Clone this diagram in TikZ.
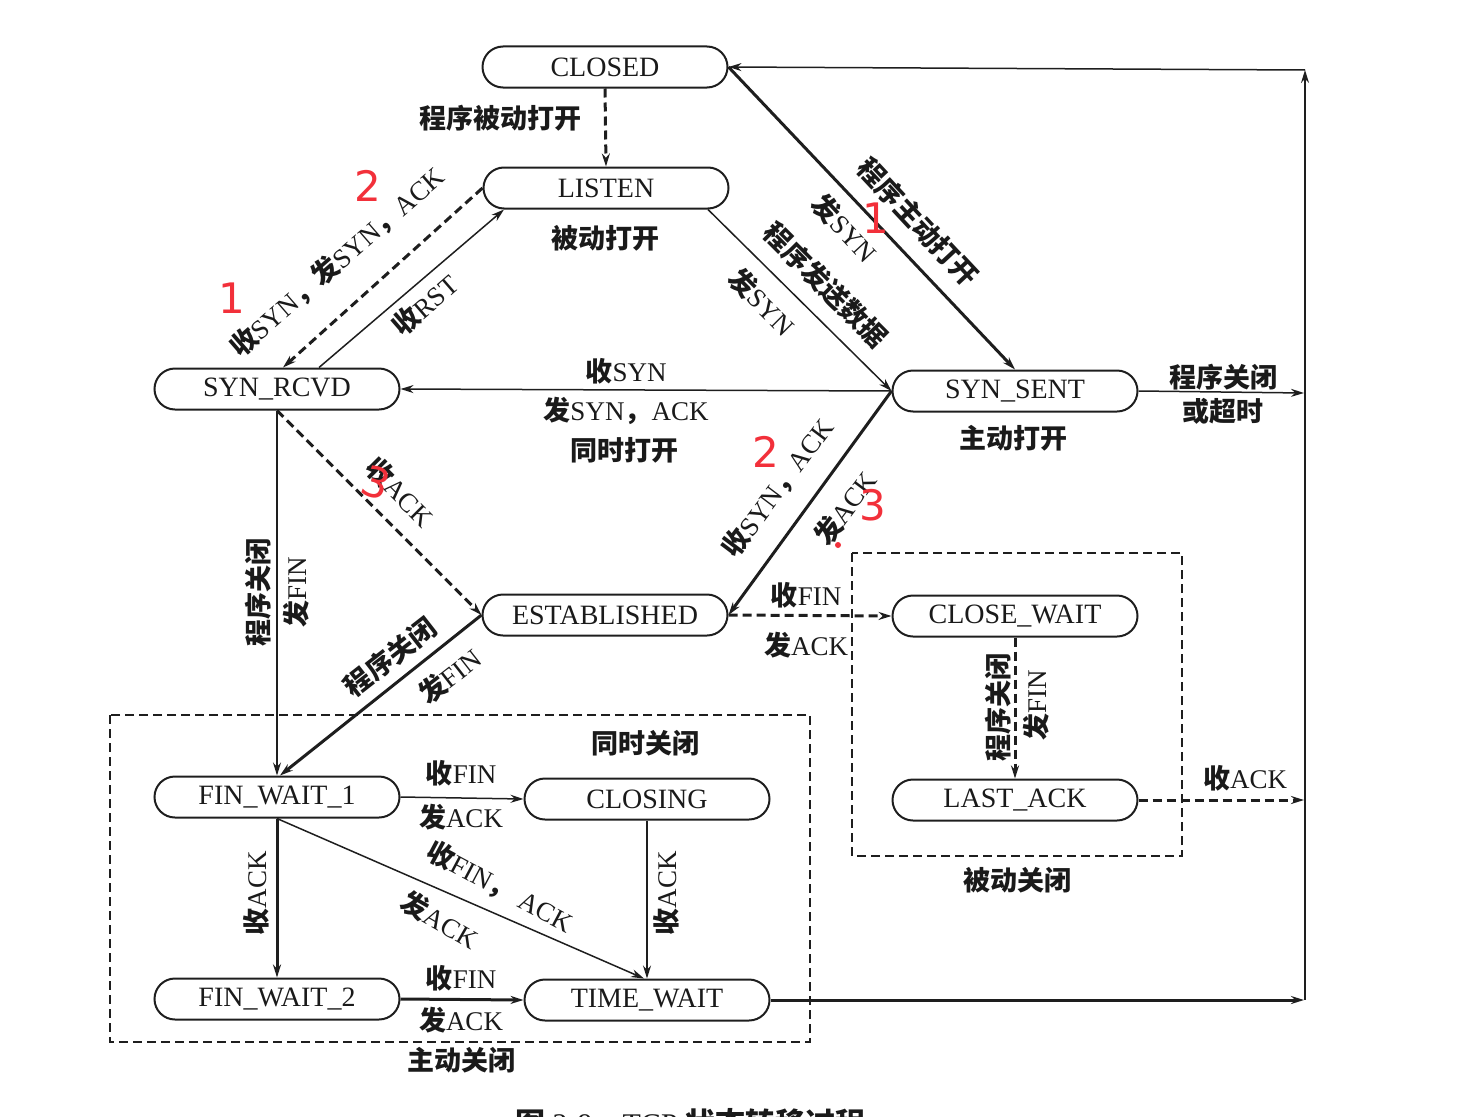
\documentclass[tikz,border=0pt]{standalone}
\usepackage{fontspec}
\setmainfont{Liberation Serif}
\newfontfamily\cjk{Noto Sans CJK SC}
\newfontfamily\handfont{DejaVu Sans}
\usetikzlibrary{shapes.misc,arrows.meta,calc}
\newcommand\zh[1]{{\cjk\bfseries #1}}
\definecolor{linec}{HTML}{1E1E1E}
\definecolor{textc}{HTML}{1A1A1A}
\definecolor{redmark}{HTML}{F2303A}
\begin{document}
\begin{tikzpicture}[x=1pt,y=-1pt,
  state/.style={rounded rectangle, draw=linec, line width=2pt, minimum width=245pt,
    minimum height=41pt, inner sep=0pt, text=textc, font=\fontsize{28}{30}\selectfont},
  lbl/.style={font=\fontsize{27}{30}\selectfont, inner sep=1pt, text=textc},
  tip/.style={-{Stealth[length=13pt,width=8pt]}},
  thinln/.style={draw=linec, line width=1.5pt, tip},
  thickln/.style={draw=linec, line width=3pt, tip},
  dashln/.style={draw=linec, line width=3pt, dash pattern=on 9pt off 5pt, tip},
  boxln/.style={draw=linec, line width=1.8pt, dash pattern=on 9pt off 5pt},
  redmk/.style={text=redmark, font=\handfont\fontsize{42}{42}\selectfont, inner sep=0pt}
]
\useasboundingbox (0,0) rectangle (1479,1116);
\clip (0,0) rectangle (1479,1116);

% dashed grouping boxes
\draw[boxln] (110,715) rectangle (810,1042);
\draw[boxln] (852,553) rectangle (1182,856);

% states
\node[state] (closed) at (605,67) {CLOSED};
\node[state] (listen) at (606,188) {LISTEN};
\node[state] (srcvd) at (277,389) {SYN\_RCVD};
\node[state] (ssent) at (1015,391) {SYN\_SENT};
\node[state] (estab) at (605,615) {ESTABLISHED};
\node[state] (cwait) at (1015,616) {CLOSE\_WAIT};
\node[state] (lack) at (1015,800) {LAST\_ACK};
\node[state] (fw1) at (277,797) {FIN\_WAIT\_1};
\node[state] (closing) at (647,799) {CLOSING};
\node[state] (fw2) at (277,999) {FIN\_WAIT\_2};
\node[state] (twait) at (647,1000) {TIME\_WAIT};

% free ends on the right
\coordinate (rSS) at (1304,393);
\coordinate (rLA) at (1304,800);
\coordinate (rTW) at (1304,1000);
\coordinate (rTop) at (1305,70);

% connectors
\draw[dashln] (closed.south) -- (listen.north);
\draw[dashln] (listen.west) -- ($(srcvd.north)+(6,0)$);
\draw[thinln] ($(srcvd.north)+(42,0)$) -- (listen.south west);
\draw[thinln] (listen.south east) -- (ssent.west);
\draw[thickln] (closed.east) -- (ssent.north);
\draw[thinln] (ssent.west) -- (srcvd.east);
\draw[thickln] (ssent.west) -- (estab.east);
\draw[dashln] (srcvd.south) -- (estab.west);
\draw[thinln] (srcvd.south) -- (fw1.north);
\draw[thickln] (estab.west) -- ($(fw1.north)+(3,0)$);
\draw[dashln] (estab.east) -- (cwait.west);
\draw[dashln] (cwait.south) -- (lack.north);
\draw[dashln] (lack.east) -- (rLA);
\draw[thinln] (ssent.east) -- (rSS);
\draw[thickln] (twait.east) -- (rTW);
\draw[thinln] (1305,1000) -- (rTop);
\draw[thinln] (rTop) -- (closed.east);
\draw[thinln] (fw1.east) -- (closing.west);
\draw[thickln] (fw1.south) -- (fw2.north);
\draw[thinln] (fw1.south) -- ($(twait.north)+(-3,0)$);
\draw[thinln] (closing.south) -- (twait.north);
\draw[thickln] (fw2.east) -- (twait.west);

% labels
\node[lbl] (l1) at (500,118) {\zh{程序被动打开}};
\node[lbl] (l2) at (605,238) {\zh{被动打开}};
\node[lbl] (l3) at (626,371) {\zh{收}SYN};
\node[lbl] (l4) at (626,411) {\zh{发}SYN\zh{，}ACK};
\node[lbl] (l5) at (624,450) {\zh{同时打开}};
\node[lbl] (l6) at (1013,438) {\zh{主动打开}};
\node[lbl] (l7) at (1223,377) {\zh{程序关闭}};
\node[lbl] (l8) at (1223,411) {\zh{或超时}};
\node[lbl] (l9) at (806,595) {\zh{收}FIN};
\node[lbl] (l10) at (806,645) {\zh{发}ACK};
\node[lbl] (l11) at (1245,778) {\zh{收}ACK};
\node[lbl] (l12) at (1017,880) {\zh{被动关闭}};
\node[lbl] (l13) at (645,743) {\zh{同时关闭}};
\node[lbl] (l14) at (461,1060) {\zh{主动关闭}};
\node[lbl] (l15) at (461,773) {\zh{收}FIN};
\node[lbl] (l16) at (461,817) {\zh{发}ACK};
\node[lbl] (l17) at (461,978) {\zh{收}FIN};
\node[lbl] (l18) at (461,1020) {\zh{发}ACK};
\node[lbl,rotate=90] (l19) at (256,893) {\zh{收}ACK};
\node[lbl,rotate=90] (l20) at (666,893) {\zh{收}ACK};
\node[lbl,rotate=90] (l21) at (258,592) {\zh{程序关闭}};
\node[lbl,rotate=90] (l22) at (296,592) {\zh{发}FIN};
\node[lbl,rotate=90] (l23) at (998,707) {\zh{程序关闭}};
\node[lbl,rotate=90] (l24) at (1036,705) {\zh{发}FIN};
\node[lbl,rotate=41] (l25) at (337,262) {\zh{收}SYN\zh{，发}SYN\zh{，}ACK};
\node[lbl,rotate=41] (l26) at (425,305) {\zh{收}RST};
\node[lbl,rotate=-47] (l27) at (918,222) {\zh{程序主动打开}};
\node[lbl,rotate=-47] (l28) at (845,228) {\zh{发}SYN};
\node[lbl,rotate=-45] (l29) at (826,285) {\zh{程序发送数据}};
\node[lbl,rotate=-45] (l30) at (762,302) {\zh{发}SYN};
\node[lbl,rotate=53] (l31) at (778,488) {\zh{收}SYN\zh{，}ACK};
\node[lbl,rotate=53] (l32) at (845,508) {\zh{发}ACK};
\node[lbl,rotate=-45] (l33) at (400,492) {\zh{收}ACK};
\node[lbl,rotate=38] (l34) at (390,657) {\zh{程序关闭}};
\node[lbl,rotate=38] (l35) at (450,676) {\zh{发}FIN};
\node[lbl,rotate=-28] (l36) at (500,887) {\zh{收}FIN\zh{，} ACK};
\node[lbl,rotate=-30] (l37) at (440,920) {\zh{发}ACK};

% handwritten red marks
\node[redmk] (m1) at (368,186) {2};
\node[redmk] (m2) at (232,298) {1};
\node[redmk] (m3) at (876,218) {1};
\node[redmk] (m4) at (766,452) {2};
\node[redmk] (m5) at (873,505) {3};
\node[redmk,rotate=-20] (m6) at (376,483) {3};
\fill[redmark] (838,545) circle (3pt);

% caption (cut off by the lower edge)
\node[anchor=base west, inner sep=0pt, font=\fontsize{30}{32}\selectfont, text=textc] (cap) at (515,1134)
  {\zh{图} 2-9\quad TCP \zh{状态转移过程}};
\end{tikzpicture}
\end{document}
